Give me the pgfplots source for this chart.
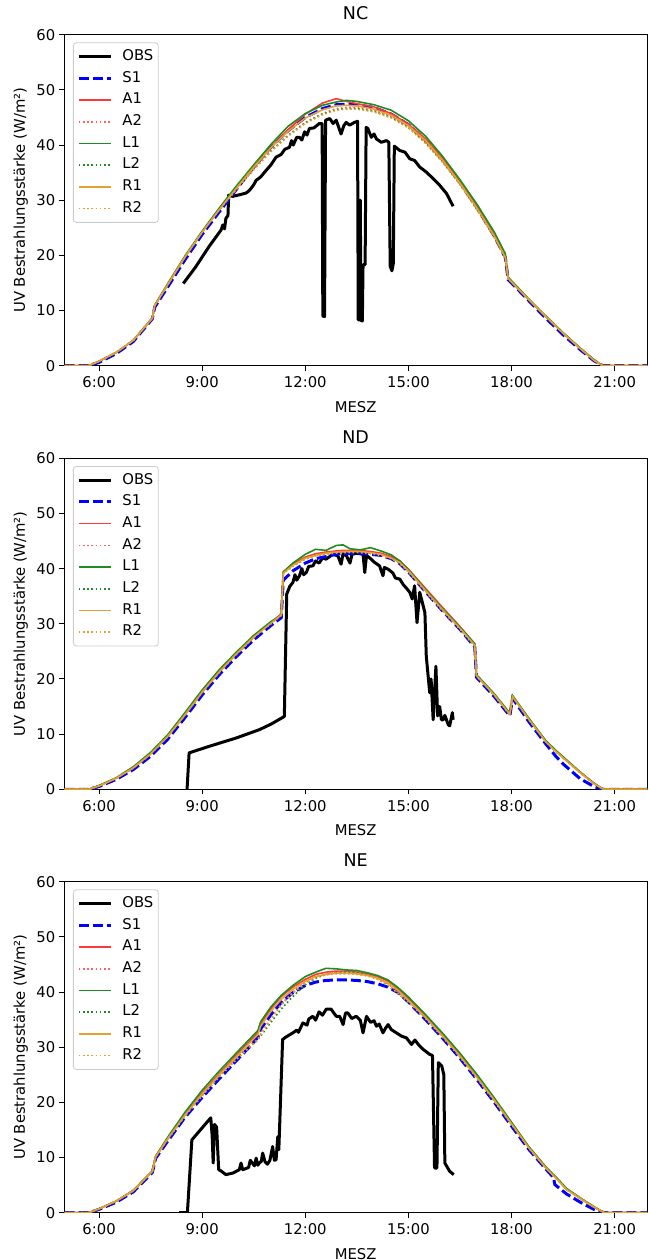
\documentclass[border=0pt]{standalone}
\usepackage{pgfplots}
\usepackage{pgfplotstable}
\pgfplotsset{compat=1.18}
\usepackage{fontspec}
\setmainfont{DejaVu Sans}

\definecolor{cA}{HTML}{FF3838}
\definecolor{cL}{HTML}{1E8C1E}
\definecolor{cR}{HTML}{E5A030}

% ---------------- NC ----------------
\pgfplotstableread{
h S1 A1 A2 L1 L2 R1 R2
5.00 0 0 0 0 0 0 0
5.70 0 0 0 0 0 0 0
6.00 0.6 0.8 0.8 0.8 0.8 0.8 0.8
6.50 2.2 2.4 2.4 2.4 2.4 2.4 2.4
7.00 4.4 4.6 4.6 4.6 4.6 4.6 4.6
7.55 8.5 8.6 8.6 8.6 8.6 8.6 8.6
7.62 10.6 10.9 10.9 11.0 10.9 10.9 10.9
8.00 14.3 14.7 14.7 14.9 14.7 14.7 14.7
8.50 19.2 19.7 19.7 19.9 19.7 19.7 19.7
9.00 23.8 24.2 24.2 24.4 24.2 24.2 24.2
9.50 27.9 28.3 28.3 28.6 28.3 28.3 28.3
10.00 32.0 32.2 32.0 32.6 32.1 32.2 32.0
10.50 36.0 35.9 35.6 36.4 35.6 36.0 35.5
11.00 39.6 39.6 38.9 40.1 38.9 39.5 38.8
11.50 42.6 42.8 41.8 43.4 41.7 42.5 41.6
12.00 45.0 45.6 44.1 45.7 44.0 44.9 43.9
12.50 46.6 47.6 45.7 47.2 45.6 46.4 45.5
12.90 47.3 48.4 46.6 47.8 46.4 47.1 46.3
13.20 47.4 47.9 46.8 48.1 46.6 47.2 46.5
13.50 47.3 47.5 46.8 47.9 46.6 47.1 46.5
14.00 46.8 46.9 46.3 47.3 46.1 46.5 46.0
14.50 45.6 45.7 45.2 46.3 45.0 45.4 44.9
15.00 43.7 43.8 43.4 44.4 43.2 43.5 43.1
15.50 40.9 41.1 40.6 41.6 40.4 40.8 40.3
16.00 37.3 37.6 37.1 37.9 36.9 37.2 36.8
16.50 33.2 33.4 33.1 33.7 32.9 33.1 32.8
17.00 28.6 28.8 28.5 29.2 28.3 28.5 28.2
17.50 23.5 23.8 23.5 24.2 23.3 23.5 23.2
17.82 19.6 19.9 19.6 20.3 19.4 19.6 19.3
17.90 15.6 15.9 15.8 16.1 15.8 15.9 15.8
18.00 15.0 15.2 15.1 15.4 15.1 15.2 15.1
18.50 11.8 12.0 12.0 12.1 12.0 12.0 12.0
19.00 8.6 8.9 8.9 9.0 8.9 8.9 8.9
19.50 5.6 5.9 5.9 6.0 5.9 5.9 5.9
20.00 2.9 3.1 3.1 3.2 3.1 3.1 3.1
20.40 0.9 1.0 1.0 1.1 1.0 1.0 1.0
20.65 0 0 0 0 0 0 0
21.95 0 0 0 0 0 0 0
}\ncmod

\pgfplotstableread{
h v
8.45 14.9
8.80 17.8
9.20 21.6
9.55 24.6
9.60 25.5
9.65 24.8
9.69 26.7
9.75 27.2
9.77 30.9
9.89 30.7
10.10 31.0
10.28 31.3
10.38 31.8
10.50 32.8
10.57 33.6
10.70 34.2
10.86 35.4
11.00 36.4
11.15 37.8
11.30 38.3
11.40 39.2
11.54 39.6
11.60 40.8
11.65 40.0
11.75 41.4
11.83 41.4
11.90 40.9
11.98 42.4
12.05 41.8
12.12 43.0
12.25 43.1
12.41 43.9
12.49 43.9
12.51 9.0
12.56 8.9
12.59 44.5
12.71 44.8
12.81 43.9
12.90 44.5
13.04 42.0
13.12 43.5
13.19 44.1
13.29 43.6
13.43 44.1
13.52 44.3
13.54 8.3
13.58 8.3
13.60 30.0
13.62 8.2
13.66 8.1
13.68 18.3
13.74 18.3
13.77 43.2
13.82 43.0
13.92 41.4
14.00 42.0
14.07 41.1
14.21 40.5
14.36 40.8
14.43 40.5
14.47 18.0
14.52 17.2
14.56 18.5
14.59 39.8
14.75 39.0
14.90 38.7
15.04 37.5
15.18 37.2
15.33 36.0
15.52 35.1
15.72 33.9
15.91 32.7
16.11 31.2
16.30 28.9
}\ncobs

% ---------------- ND ----------------
\pgfplotstableread{
h S1 A1 A2 L1 L2 R1 R2
5.00 0 0 0 0 0 0 0
5.70 0 0 0 0 0 0 0
6.00 0.5 0.6 0.6 0.7 0.6 0.6 0.6
6.50 1.8 2.0 2.0 2.1 2.0 2.0 2.0
7.00 3.6 3.9 3.9 4.1 3.9 3.9 3.9
7.50 6.0 6.4 6.4 6.7 6.4 6.4 6.4
8.00 9.1 9.6 9.6 9.9 9.6 9.6 9.6
8.50 13.0 13.5 13.5 13.9 13.5 13.5 13.5
9.00 17.1 17.6 17.6 18.0 17.6 17.6 17.6
9.50 20.8 21.3 21.2 21.7 21.3 21.3 21.2
10.00 24.1 24.6 24.5 24.9 24.6 24.6 24.5
10.50 27.1 27.6 27.5 27.9 27.6 27.6 27.5
11.00 29.7 30.2 30.1 30.4 30.1 30.1 30.0
11.30 31.1 31.8 31.7 31.6 31.6 31.6 31.5
11.36 37.9 39.4 39.2 39.4 39.2 39.2 39.1
11.64 39.6 40.8 40.5 41.0 40.5 40.6 40.4
12.00 41.0 42.1 41.8 42.6 41.8 41.9 41.7
12.30 41.8 42.7 42.4 43.5 42.4 42.4 42.3
12.60 42.2 43.0 42.8 43.3 42.7 42.8 42.6
12.90 42.6 43.2 43.0 44.2 42.9 43.0 42.8
13.10 42.8 43.3 43.1 44.3 43.0 43.1 42.9
13.30 42.7 43.3 43.1 43.6 43.0 43.1 42.9
13.60 42.8 43.3 43.1 43.4 43.1 43.1 42.9
13.90 42.6 43.1 42.9 43.8 42.9 42.9 42.7
14.20 42.4 42.8 42.6 43.2 42.6 42.6 42.4
14.50 41.8 42.2 42.0 42.5 41.9 41.9 41.8
14.75 40.9 41.4 41.1 41.4 41.1 41.1 40.9
15.00 39.4 39.9 39.6 39.8 39.6 39.6 39.4
15.50 35.8 36.4 36.1 36.2 36.0 36.0 35.8
16.00 32.3 32.9 32.6 32.7 32.5 32.5 32.3
16.50 29.0 29.5 29.3 29.4 29.2 29.2 29.0
16.93 25.8 26.3 26.1 26.4 26.0 26.1 25.9
16.98 20.3 20.7 20.6 20.8 20.5 20.6 20.5
17.50 16.8 17.2 17.1 17.3 17.0 17.1 17.0
17.95 13.3 13.7 13.6 13.8 13.5 13.6 13.5
18.03 16.5 16.9 16.8 17.0 16.8 16.8 16.8
18.50 12.3 12.8 12.7 12.9 12.7 12.7 12.6
19.00 8.2 8.7 8.6 8.8 8.6 8.6 8.6
19.30 5.9 6.9 6.8 7.0 6.8 6.8 6.8
19.50 4.6 5.8 5.7 5.9 5.7 5.7 5.7
20.00 1.9 3.1 3.0 3.1 3.0 3.0 3.0
20.40 0.5 1.1 1.0 1.1 1.0 1.0 1.0
20.67 0 0 0 0 0 0 0
21.95 0 0 0 0 0 0 0
}\ndmod

\pgfplotstableread{
h v
8.56 0
8.62 6.6
9.21 7.8
9.99 9.3
10.66 10.8
11.00 11.8
11.39 13.2
11.46 35.4
11.55 36.8
11.64 37.5
11.70 38.9
11.75 37.9
11.83 38.7
11.90 40.0
11.95 38.9
12.03 39.3
12.10 40.4
12.22 40.5
12.30 41.4
12.40 41.0
12.51 42.0
12.60 41.7
12.80 42.6
12.95 42.3
13.04 40.8
13.10 42.7
13.20 42.3
13.30 41.0
13.36 42.6
13.50 42.8
13.68 42.6
13.73 39.3
13.78 42.4
13.90 41.8
14.00 41.2
14.16 40.5
14.26 38.7
14.30 40.2
14.41 39.9
14.55 39.2
14.62 38.3
14.75 38.1
14.85 37.1
14.95 36.4
15.04 35.7
15.11 34.5
15.18 36.9
15.25 30.2
15.33 35.7
15.42 33.5
15.48 32.0
15.52 24.1
15.62 17.5
15.66 20.0
15.72 12.6
15.80 22.3
15.85 13.3
15.91 15.0
15.96 12.6
16.01 12.6
16.06 13.4
16.16 11.7
16.20 11.5
16.28 13.9
16.30 12.6
}\ndobs

% ---------------- NE ----------------
\pgfplotstableread{
h S1 A1 A2 L1 L2 R1 R2
5.00 0 0 0 0 0 0 0
5.70 0 0 0 0 0 0 0
6.00 0.6 0.7 0.7 0.7 0.7 0.7 0.7
6.50 1.9 2.1 2.1 2.1 2.1 2.1 2.1
7.00 3.8 4.0 4.0 4.1 4.0 4.0 4.0
7.55 7.3 7.5 7.5 7.6 7.5 7.5 7.5
7.65 9.9 10.2 10.2 10.3 10.2 10.2 10.2
8.00 13.0 13.4 13.4 13.7 13.4 13.4 13.3
8.50 17.3 17.8 17.6 18.2 17.6 17.7 17.5
9.00 20.9 21.7 21.3 22.2 21.3 21.5 21.2
9.50 24.3 25.2 24.8 25.7 24.7 25.0 24.6
10.00 27.6 28.6 28.0 29.0 27.9 28.3 27.8
10.40 30.2 31.2 30.3 31.6 30.2 30.9 30.1
10.62 31.8 32.6 31.5 33.0 31.3 32.3 31.3
10.70 33.3 34.2 32.4 34.6 32.0 33.8 32.2
11.00 35.9 37.0 35.2 37.3 34.5 36.5 35.0
11.30 38.1 39.2 37.8 39.4 36.9 38.7 37.6
11.64 39.9 40.9 40.0 41.2 39.2 40.5 39.8
12.00 41.2 42.3 41.8 42.8 41.3 41.9 41.6
12.30 41.8 43.2 42.9 43.6 42.5 42.8 42.6
12.60 42.1 43.6 43.4 44.3 43.2 43.2 43.1
12.90 42.2 43.8 43.6 44.2 43.5 43.4 43.3
13.20 42.2 43.8 43.7 44.0 43.6 43.4 43.3
13.50 42.1 43.6 43.6 43.9 43.5 43.3 43.2
13.80 41.9 43.3 43.2 43.5 43.1 43.0 42.9
14.10 41.5 42.8 42.6 43.0 42.4 42.5 42.3
14.40 40.9 42.0 41.5 42.2 41.2 41.7 41.3
14.70 39.9 40.6 40.0 40.8 39.7 40.3 39.8
15.00 38.2 38.8 38.4 39.1 38.2 38.5 38.2
15.50 35.0 35.6 35.3 35.9 35.2 35.4 35.2
16.00 31.6 32.2 32.0 32.5 31.9 32.0 31.8
16.50 28.0 28.6 28.4 28.9 28.3 28.4 28.2
17.00 24.1 24.7 24.5 25.0 24.4 24.5 24.3
17.50 20.0 20.6 20.4 20.8 20.3 20.4 20.2
18.00 15.7 16.2 16.1 16.4 16.0 16.1 16.0
18.50 11.5 11.9 11.8 12.0 11.8 11.8 11.7
19.00 7.9 8.2 8.1 8.3 8.1 8.1 8.1
19.22 6.4 6.8 6.7 6.9 6.7 6.7 6.7
19.26 5.1 6.6 6.5 6.7 6.5 6.5 6.5
19.60 3.4 4.3 4.2 4.4 4.2 4.2 4.2
20.00 1.9 2.6 2.6 2.7 2.6 2.6 2.6
20.40 0.6 1.0 1.0 1.1 1.0 1.0 1.0
20.70 0 0 0 0 0 0 0
21.95 0 0 0 0 0 0 0
}\nemod

\pgfplotstableread{
h v
8.33 0
8.57 0
8.70 13.2
9.25 17.2
9.29 14.0
9.32 9.0
9.36 16.0
9.42 15.5
9.48 7.8
9.54 7.6
9.69 6.9
9.90 7.2
10.08 7.8
10.13 9.0
10.18 7.8
10.27 8.0
10.35 8.2
10.40 9.5
10.47 8.9
10.52 8.5
10.57 9.9
10.62 8.6
10.66 9.0
10.72 9.3
10.76 10.8
10.83 9.2
10.90 8.8
10.97 9.5
11.05 12.0
11.10 9.5
11.15 9.6
11.20 13.8
11.23 11.4
11.34 31.4
11.45 31.9
11.64 32.6
11.75 33.1
11.80 32.7
11.93 34.4
12.05 34.0
12.10 35.1
12.22 35.6
12.30 34.9
12.40 36.4
12.50 35.8
12.61 36.9
12.75 36.9
12.90 35.6
13.00 35.6
13.10 34.1
13.17 36.2
13.24 36.2
13.35 35.2
13.48 35.6
13.60 34.9
13.68 32.6
13.78 35.6
13.90 34.5
14.00 34.8
14.07 33.8
14.15 34.2
14.26 32.6
14.33 33.4
14.41 34.1
14.50 33.2
14.65 32.6
14.80 32.0
14.94 31.7
15.09 30.5
15.19 31.3
15.30 30.4
15.43 29.6
15.62 28.7
15.70 28.5
15.76 8.1
15.83 8.1
15.87 27.2
15.97 26.6
16.03 25.0
16.06 9.0
16.20 7.5
16.32 6.9
}\neobs

\newcommand{\tfont}{\fontsize{14.8}{17}\selectfont}

\pgfplotsset{
  myleg/.style={legend image code/.code={\draw[##1] (0pt,0pt) -- (32pt,0pt);}},
  uvax/.style={
    scale only axis, width=583.3pt, height=331pt,
    xmin=4.98, xmax=21.95, ymin=0, ymax=60,
    xtick={6,9,12,15,18,21},
    xticklabels={6:00,9:00,12:00,15:00,18:00,21:00},
    ytick={0,10,20,30,40,50,60},
    yticklabels={0,10,20,30,40,50,60},
    xtick pos=bottom, ytick pos=left,
    tick align=outside, major tick length=5pt,
    tick style={line width=1pt, black},
    axis line style={line width=1pt},
    ticklabel style={font=\tfont},
    xticklabel style={anchor=north, inner sep=0pt, yshift=-6pt},
    yticklabel style={anchor=east, inner sep=0pt, xshift=-3.5pt},
    xlabel={MESZ}, ylabel={UV Bestrahlungsstärke (W/m²)},
    every axis x label/.style={at={(axis description cs:0.5,-0.140)}, anchor=base, font=\tfont},
    every axis y label/.style={at={(axis description cs:-0.0669,0.5)}, rotate=90, anchor=base, font=\tfont},
    title style={at={(axis description cs:0.5,1.0272)}, anchor=base, font=\fontsize{17.5}{20}\selectfont},
    legend cell align=left,
    legend style={at={(0.0154,0.9767)}, anchor=north west,
      draw=black!20, line width=0.8pt, rounded corners=3pt, fill=white, fill opacity=0.8, text opacity=1,
      font=\tfont, inner xsep=4pt, inner ysep=3pt, row sep=0pt,
      nodes={inner xsep=1pt, inner ysep=3.6pt, text height=11pt, text depth=3.5pt},
      /tikz/every odd column/.append style={column sep=9pt}},
  },
  obs/.style={black, line width=3pt, line join=round, myleg},
  s1/.style={blue, line width=3pt, dash pattern=on 10pt off 4pt, myleg},
  a1/.style={cA, line width=1.6pt, myleg},
  a2/.style={cA!80!white, line width=1.6pt, dash pattern=on 1.6pt off 2.6pt, myleg},
  l1/.style={cL, line width=1.6pt, myleg},
  l2/.style={cL, line width=1.6pt, dash pattern=on 1.6pt off 2.6pt, myleg},
  r1/.style={cR, line width=1.6pt, myleg},
  r2/.style={cR, line width=1.6pt, dash pattern=on 1.6pt off 2.6pt, myleg},
}

\begin{document}
\begin{tikzpicture}
\path[use as bounding box] (0,0) rectangle (648pt,1260pt);

\begin{axis}[uvax, at={(64pt,894.3pt)}, anchor=south west, title={NC}]
\addplot[obs] table[x=h,y=v] {\ncobs};
\addplot[s1] table[x=h,y=S1] {\ncmod};
\addplot[a1] table[x=h,y=A1] {\ncmod};
\addplot[a2] table[x=h,y=A2] {\ncmod};
\addplot[l1] table[x=h,y=L1] {\ncmod};
\addplot[l2] table[x=h,y=L2] {\ncmod};
\addplot[r1] table[x=h,y=R1] {\ncmod};
\addplot[r2] table[x=h,y=R2] {\ncmod};
\legend{OBS,S1,A1,A2,L1,L2,R1,R2}
\end{axis}

\begin{axis}[uvax, at={(64pt,470.7pt)}, anchor=south west, title={ND}]
\addplot[obs] table[x=h,y=v] {\ndobs};
\addplot[s1] table[x=h,y=S1] {\ndmod};
\addplot[a1] table[x=h,y=A1] {\ndmod};
\addplot[a2] table[x=h,y=A2] {\ndmod};
\addplot[l1] table[x=h,y=L1] {\ndmod};
\addplot[l2] table[x=h,y=L2] {\ndmod};
\addplot[r1] table[x=h,y=R1] {\ndmod};
\addplot[r2] table[x=h,y=R2] {\ndmod};
\legend{OBS,S1,A1,A2,L1,L2,R1,R2}
\end{axis}

\begin{axis}[uvax, at={(64pt,47.3pt)}, anchor=south west, title={NE}]
\addplot[obs] table[x=h,y=v] {\neobs};
\addplot[s1] table[x=h,y=S1] {\nemod};
\addplot[a1] table[x=h,y=A1] {\nemod};
\addplot[a2] table[x=h,y=A2] {\nemod};
\addplot[l1] table[x=h,y=L1] {\nemod};
\addplot[l2] table[x=h,y=L2] {\nemod};
\addplot[r1] table[x=h,y=R1] {\nemod};
\addplot[r2] table[x=h,y=R2] {\nemod};
\legend{OBS,S1,A1,A2,L1,L2,R1,R2}
\end{axis}
\end{tikzpicture}
\end{document}
